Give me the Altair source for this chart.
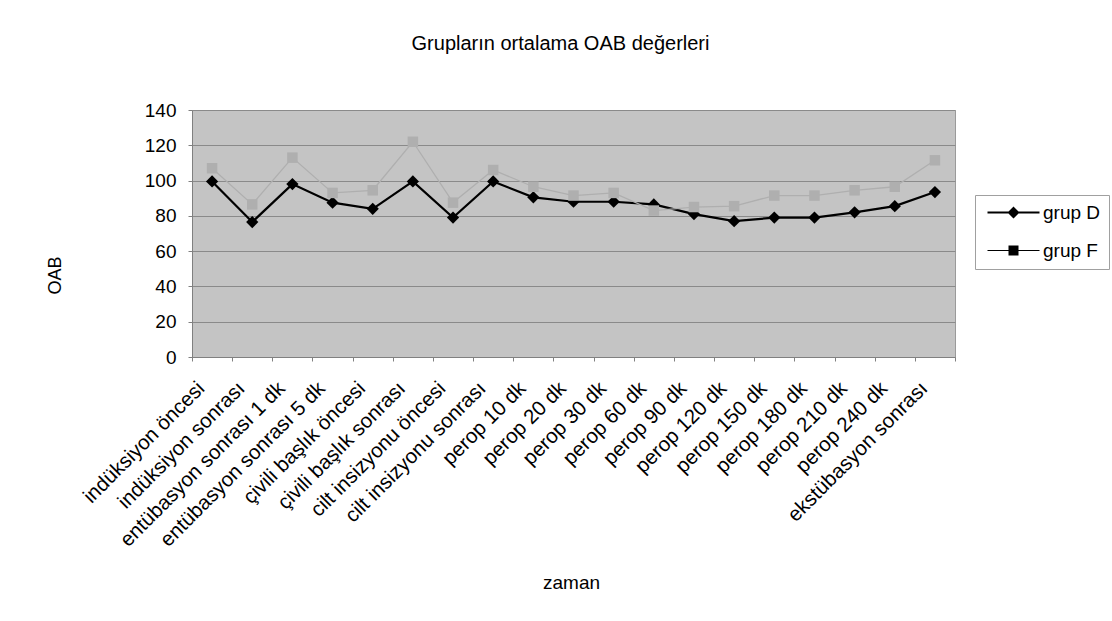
import altair as alt
import pandas as pd

categories = [
    "indüksiyon öncesi", "indüksiyon sonrası", "entübasyon sonrası 1 dk",
    "entübasyon sonrası 5 dk", "çivili başlık öncesi", "çivili başlık sonrası",
    "cilt insizyonu öncesi", "cilt insizyonu sonrası", "perop 10 dk",
    "perop 20 dk", "perop 30 dk", "perop 60 dk", "perop 90 dk", "perop 120 dk",
    "perop 150 dk", "perop 180 dk", "perop 210 dk", "perop 240 dk",
    "ekstübasyon sonrası",
]
grup_d = [99.5, 76.5, 98, 87.5, 84, 99.5, 79, 99.5, 90.5, 88, 88, 86.5,
          81, 77, 79, 79, 82, 85.5, 93.5]
grup_f = [107, 86.5, 113, 93, 94.5, 122, 87.5, 106, 96.5, 91.5, 93, 83,
          85, 85.5, 91.5, 91.5, 94.5, 96.5, 111.5]
series = ["grup D", "grup F"]

rows = []
for i, c in enumerate(categories):
    rows.append({"zaman": c, "grup": series[0], "OAB": grup_d[i], "ord": i})
    rows.append({"zaman": c, "grup": series[1], "OAB": grup_f[i], "ord": i})
df = pd.DataFrame(rows)

FONT = "Liberation Sans"

x_enc = alt.X(
    "zaman:N", sort=categories, title="zaman", bandPosition=0.5,
    scale=alt.Scale(type="band", paddingInner=0, paddingOuter=0),
    axis=alt.Axis(labelAngle=-45, labelAlign="right", labelBaseline="middle",
                  labelFontSize=20.5, labelColor="black", labelFont=FONT,
                  labelPadding=24, labelOffset=-11, labelLimit=0,
                  domainColor="#808080", tickColor="#808080", tickSize=4,
                  tickBand="extent", grid=False, titleFontSize=19,
                  titleFont=FONT, titleFontWeight="normal", titleColor="black",
                  titleX=379, titleY=225, titleBaseline="middle",
                  titleAnchor="start", titleAlign="center", labelOverlap=False),
)
y_enc = alt.Y(
    "OAB:Q", title="OAB",
    scale=alt.Scale(domain=[0, 140], nice=False),
    axis=alt.Axis(values=[0, 20, 40, 60, 80, 100, 120, 140], labelFontSize=19,
                  labelColor="black", labelFont=FONT, labelPadding=12,
                  domainColor="#808080", tickColor="#808080", tickSize=4,
                  grid=True, gridColor="#8a8a8a", gridWidth=1,
                  titleFontSize=18, titleFont=FONT, titleFontWeight="normal",
                  titleColor="black", titleAngle=-90, titleX=-137, titleY=165,
                  titleBaseline="middle", titleAlign="center"),
)

color_scale = alt.Scale(domain=series, range=["#000000", "#afafaf"])

# legend glyphs: a short line with the marker on it (filled outlines)
D_PATH = ("M-5.2,-0.2L5.2,-0.2L5.2,0.2L-5.2,0.2Z"
          "M0,-1.2L1.2,0L0,1.2L-1.2,0Z")
F_PATH = ("M-5.2,-0.12L5.2,-0.12L5.2,0.12L-5.2,0.12Z"
          "M-1,-1L1,-1L1,1L-1,1Z")

legend = alt.Legend(
    title=None, orient="none", legendX=783, legendY=85,
    fillColor="white", strokeColor="#a0a0a0", padding=8,
    labelFontSize=19, labelFont=FONT, labelColor="black",
    symbolSize=100, symbolOffset=21, labelOffset=20, rowPadding=18,
    symbolOpacity=1, symbolFillColor="black", symbolStrokeColor="black",
    symbolStrokeWidth=0,
)

base = alt.Chart(df)

lines = base.mark_line().encode(
    x=x_enc, y=y_enc,
    color=alt.Color("grup:N", scale=color_scale, legend=None),
    strokeWidth=alt.StrokeWidth("grup:N", scale=alt.Scale(domain=series, range=[2.2, 1.3]), legend=None),
    order="ord:Q",
)

points = base.mark_point(filled=True, opacity=1).encode(
    x=x_enc, y=y_enc,
    color=alt.Color("grup:N", scale=color_scale, legend=None),
    shape=alt.Shape("grup:N", scale=alt.Scale(domain=series, range=["diamond", "square"]), legend=None),
    size=alt.Size("grup:N", scale=alt.Scale(domain=series, range=[150, 110]), legend=None),
)

legend_layer = base.mark_point(filled=True, opacity=0, color="black").encode(
    x=x_enc, y=y_enc,
    shape=alt.Shape("grup:N", scale=alt.Scale(domain=series, range=[D_PATH, F_PATH]), legend=legend),
)

chart = alt.layer(lines, points, legend_layer).resolve_scale(
    shape="independent"
).properties(
    width=763, height=247,
    background="white",
    title=alt.TitleParams("Grupların ortalama OAB değerleri", fontSize=20,
                          font=FONT, fontWeight="normal", color="black",
                          anchor="middle", dx=-13, offset=47),
    autosize=alt.AutoSizeParams(type="none"),
    padding={"left": 192, "top": 110, "right": 157, "bottom": 264},
).configure_view(
    fill="#c4c4c4", stroke="#9a9a9a", strokeWidth=1
)

chart.save("out.html", embed_options={"renderer": "svg", "actions": False})
